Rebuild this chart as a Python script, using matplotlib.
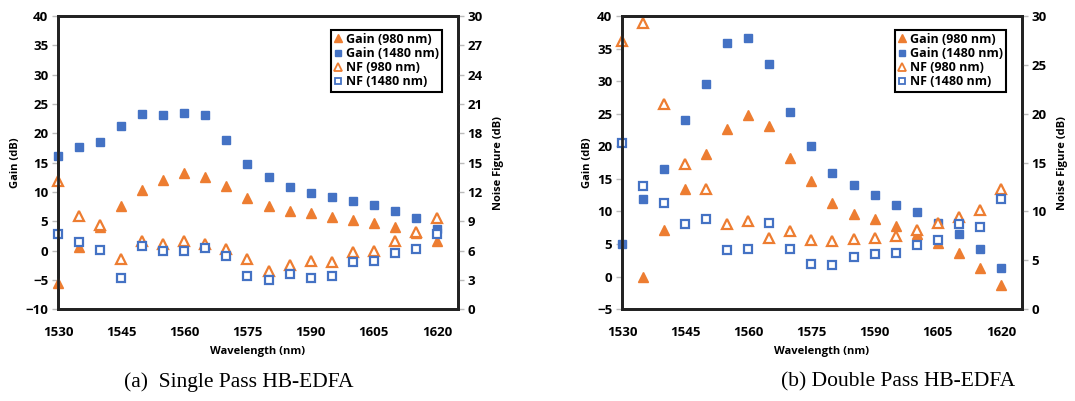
import numpy as np
import matplotlib
matplotlib.use('Agg')
import matplotlib.pyplot as plt
from matplotlib.lines import Line2D

wavelength = np.arange(1530, 1621, 5)

# (a) single pass
sp_gain_980 = [-5.6, 0.55, 4.1, 7.65, 10.3, 12.0, 13.3, 12.5, 11.0, 9.0,
               7.6, 6.8, 6.35, 5.8, 5.2, 4.75, 4.1, 3.05, 1.6]
sp_gain_1480 = [16.1, 17.6, 18.6, 21.2, 23.3, 23.2, 23.4, 23.1, 18.8, 14.7,
                12.5, 10.9, 9.9, 9.2, 8.45, 7.8, 6.8, 5.5, 3.6]
sp_nf_980 = [13.14, 9.57, 8.6, 5.1, 7.0, 6.66, 6.96, 6.63, 6.12, 5.16,
             3.9, 4.53, 4.92, 4.86, 5.88, 5.96, 6.96, 7.92, 9.3]
sp_nf_1480 = [7.68, 6.84, 6.03, 3.18, 6.42, 6.0, 6.0, 6.24, 5.49, 3.42,
              3.0, 3.57, 3.18, 3.36, 4.8, 4.92, 5.76, 6.16, 7.74]

# (b) double pass
dp_gain_980 = [np.nan, 0.0, 7.1, 13.5, 18.8, 22.7, 24.8, 23.1, 18.2, 14.7,
               11.3, 9.6, 8.8, 7.75, 6.6, 5.1, 3.65, 1.35, -1.35]
dp_gain_1480 = [5.0, 11.95, 16.5, 24.0, 29.5, 35.8, 36.6, 32.6, 25.3, 20.0,
                15.95, 14.1, 12.5, 11.0, 9.85, 8.3, 6.6, 4.3, 1.25]
dp_nf_980 = [27.4, 29.3, 21.0, 14.9, 12.3, 8.67, 9.0, 7.33, 8.0, 7.07,
             6.97, 7.23, 7.31, 7.47, 8.09, 8.78, 9.4, 10.13, 12.33]
dp_nf_1480 = [16.97, 12.6, 10.87, 8.73, 9.2, 6.05, 6.18, 8.78, 6.11, 4.6,
              4.53, 5.3, 5.63, 5.77, 6.53, 7.13, 8.7, 8.43, 11.27]

ORANGE = '#ED7D31'
BLUE = '#4472C4'
FONT = 'Open Sans'

def panel(fig, rect, g980, g1480, n980, n1480, gain_lim, gain_step, nf_step, caption, cap_x):
    ax = fig.add_axes(rect)
    ax2 = ax.twinx()
    ax.plot(wavelength, g980, '^', color=ORANGE, ms=7, ls='none', clip_on=False, zorder=3)
    ax.plot(wavelength, g1480, 's', color=BLUE, ms=5.8, ls='none', clip_on=False, zorder=3)
    ax2.plot(wavelength, n980, '^', mfc='white', mec=ORANGE, mew=1.6, ms=7, ls='none', clip_on=False)
    ax2.plot(wavelength, n1480, 's', mfc='white', mec=BLUE, mew=1.6, ms=5.4, ls='none', clip_on=False)

    ax.set_xlim(1530, 1625)
    ax.set_xticks(np.arange(1530, 1621, 15))
    ax.set_ylim(*gain_lim)
    ax.set_yticks(np.arange(gain_lim[0], gain_lim[1] + 1, gain_step))
    ax2.set_ylim(0, 30)
    ax2.set_yticks(np.arange(0, 31, nf_step))

    for a in (ax, ax2):
        for s in a.spines.values():
            s.set_linewidth(2)
            s.set_color('#222222')
        a.tick_params(axis='y', length=4, width=1, color='#bbbbbb', pad=3)
        for lbl in a.get_yticklabels():
            lbl.set_fontfamily(FONT)
            lbl.set_fontweight('bold')
            lbl.set_fontsize(9.5)
    ax.tick_params(axis='x', length=0, pad=12)
    for lbl in ax.get_xticklabels():
        lbl.set_fontfamily(FONT)
        lbl.set_fontweight('bold')
        lbl.set_fontsize(9.5)

    ax.set_xlabel('Wavelength (nm)', fontfamily=FONT, fontweight='bold', fontsize=8, labelpad=5)
    ax.set_ylabel('Gain (dB)', fontfamily=FONT, fontweight='bold', fontsize=8, labelpad=3)
    ax2.set_ylabel('Noise Figure (dB)', fontfamily=FONT, fontweight='bold', fontsize=8, labelpad=7)

    handles = [
        Line2D([], [], marker='^', color=ORANGE, ls='none', ms=6),
        Line2D([], [], marker='s', color=BLUE, ls='none', ms=5),
        Line2D([], [], marker='^', mfc='white', mec=ORANGE, mew=1.3, ls='none', ms=6),
        Line2D([], [], marker='s', mfc='white', mec=BLUE, mew=1.3, ls='none', ms=4.5),
    ]
    labels = ['Gain (980 nm)', 'Gain (1480 nm)', 'NF (980 nm)', 'NF (1480 nm)']
    leg = ax2.legend(handles, labels, loc='upper right', bbox_to_anchor=(0.975, 0.975),
                     prop={'family': FONT, 'weight': 'bold', 'size': 9},
                     handlelength=0.6, handletextpad=0.3, borderpad=0.25,
                     labelspacing=0.1, fancybox=False, framealpha=1)
    leg.get_frame().set_edgecolor('black')
    leg.get_frame().set_linewidth(1.5)

    fig.text(cap_x, 0.047, caption, ha='center', va='center',
             fontfamily='Liberation Serif', fontsize=15.5)

fig = plt.figure(figsize=(10.75, 4.01), dpi=100)
panel(fig, [0.054, 0.229, 0.372, 0.731], sp_gain_980, sp_gain_1480, sp_nf_980, sp_nf_1480,
      (-10, 40), 5, 3, '(a)  Single Pass HB-EDFA', 0.222)
panel(fig, [0.5786, 0.229, 0.372, 0.731], dp_gain_980, dp_gain_1480, dp_nf_980, dp_nf_1480,
      (-5, 40), 5, 5, '(b) Double Pass HB-EDFA', 0.835)

fig.savefig('out.png', dpi=100)
